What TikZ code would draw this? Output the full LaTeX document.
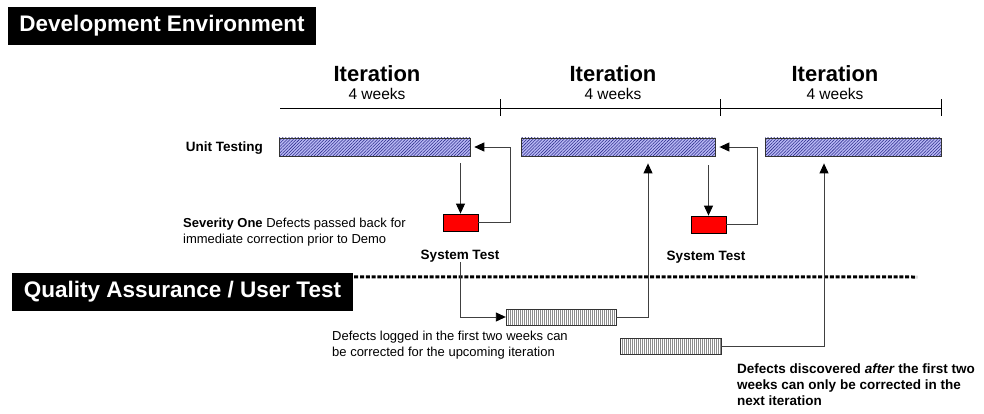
\documentclass[tikz,border=0pt]{standalone}
\usepackage{fontspec}
\setmainfont{Liberation Sans}
\usetikzlibrary{arrows.meta,patterns.meta}
\definecolor{hatchblue}{RGB}{185,185,245}
\definecolor{hatchnavy}{RGB}{45,45,140}

\begin{document}
\begin{tikzpicture}[x=1pt,y=-1pt,
  heading/.style={fill=black, text=white, font=\bfseries\fontsize{22.5}{24}\selectfont, inner sep=0pt, minimum height=38pt},
  unitbar/.style={draw=black!80, line width=0.8pt, inner sep=0pt, minimum height=18pt, preaction={fill=hatchblue}, pattern={Lines[angle=45,distance=2.2pt,line width=0.55pt]}, pattern color=hatchnavy},
  qabar/.style={draw=black!80, line width=0.7pt, inner sep=0pt, minimum height=16pt, pattern={Lines[angle=90,distance=2pt,line width=0.35pt]}, pattern color=black!45},
  systest/.style={draw=black, line width=0.8pt, fill=red, inner sep=0pt, minimum width=35pt, minimum height=17pt},
  flow/.style={draw=black!75, line width=0.9pt, -{Triangle[length=10pt,width=9pt,color=black]}},
  small/.style={font=\fontsize{13}{16}\selectfont, inner sep=0pt},
  smallbf/.style={font=\bfseries\fontsize{13.5}{16}\selectfont, inner sep=0pt},
  iter/.style={font=\bfseries\fontsize{22}{24}\selectfont, inner sep=0pt},
  weeks/.style={font=\fontsize{15.5}{18}\selectfont, inner sep=0pt}]
\useasboundingbox (0,0) rectangle (984,414);
% headings:
\node[heading, minimum width=308pt] (dev) at (162,26) {Development Environment};
\node[heading, minimum width=341pt] (qa) at (182.5,292) {Quality Assurance / User Test};
\coordinate (divend) at (917,277);
\draw[line width=3pt, dash pattern=on 4pt off 1.8pt] (qa.north east) ++(1,4) -- (divend);
% time line:
\coordinate (t0) at (280,108);
\coordinate (t1) at (500,108);
\coordinate (t2) at (720,108);
\coordinate (t3) at (941,108);
\draw[line width=0.8pt] (t0) -- (t3);
\foreach \t in {t1,t2,t3}
  \draw[line width=0.8pt] ([yshift=8.5pt]\t) -- ([yshift=-8.5pt]\t);
\foreach \x/\n in {377/1,613/2,835/3}{
  \node[iter, anchor=base] (iter\n) at (\x,82) {Iteration};
  \node[weeks, anchor=base] (weeks\n) at (\x,100) {4 weeks};
}
% unit testing bars:
\node[smallbf, anchor=base east] (unit) at (263,152) {Unit Testing};
\node[unitbar, minimum width=191pt] (bar1) at (374.5,147) {};
\node[unitbar, minimum width=194pt] (bar2) at (618,147) {};
\node[unitbar, minimum width=176pt] (bar3) at (853,147) {};
% system test:
\node[systest] (red1) at (460.5,222.5) {};
\node[systest] (red2) at (708.5,224.5) {};
\node[smallbf, anchor=base] (st1) at (460,259) {System Test};
\node[smallbf, anchor=base] (st2) at (706,260) {System Test};
% QA bars:
\node[qabar, minimum width=110pt] (qa1) at (561,317) {};
\node[qabar, minimum width=101pt] (qa2) at (670.5,346) {};
% notes:
\node[small, anchor=north west, align=left] (sev) at (183,218) {\textbf{Severity One} Defects passed back for\\immediate correction prior to Demo};
\node[small, anchor=north west, align=left] (logged) at (332,331) {Defects logged in the first two weeks can\\be corrected for the upcoming iteration};
\node[smallbf, anchor=north west, align=left] (later) at (737,364) {Defects discovered \textit{after} the first two\\weeks can only be corrected in the\\next iteration};
% connectors:
\draw[flow] ([yshift=-7pt]bar1.south -| red1.north) -- (red1.north);
\draw[flow] (red1.east) -| ([xshift=40pt]bar1.east) -- ([xshift=4pt]bar1.east);
\draw[flow] ([yshift=-9pt]bar2.south -| red2.north) -- (red2.north);
\draw[flow] (red2.east) -| ([xshift=42pt]bar2.east) -- ([xshift=4pt]bar2.east);
\draw[flow] (st1.south) |- (qa1.west);
\draw[flow] (qa1.east) -| ([xshift=30pt,yshift=-7pt]bar2.south);
\draw[flow] (qa2.east) -| ([xshift=-29pt,yshift=-7pt]bar3.south);
\end{tikzpicture}
\end{document}
